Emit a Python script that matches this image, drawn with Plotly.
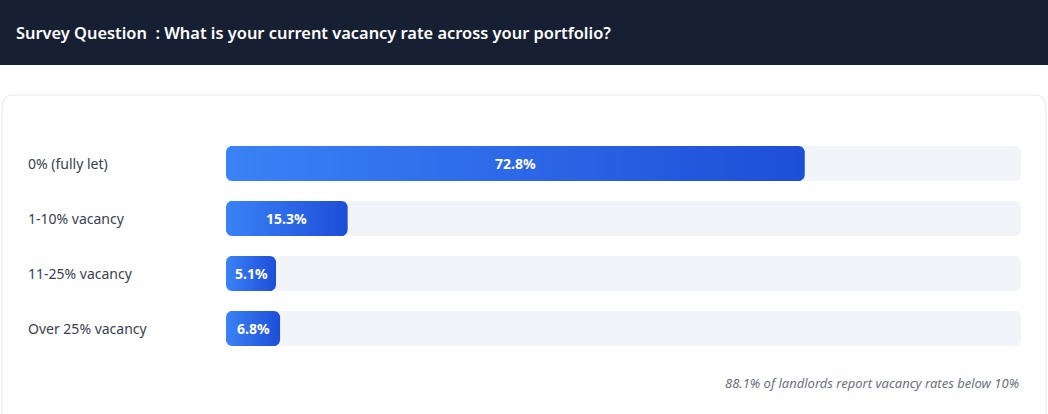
import numpy as np
import plotly.graph_objects as go

# ---- data ----
categories = ["0% (fully let)", "1-10% vacancy", "11-25% vacancy", "Over 25% vacancy"]
values = [72.8, 15.3, 5.1, 6.8]
value_labels = ["72.8%", "15.3%", "5.1%", "6.8%"]
title_text = "Survey Question  : What is your current vacancy rate across your portfolio?"
footer_text = "88.1% of landlords report vacancy rates below 10%"

# ---- layout geometry ----
W, H = 1048, 414
ML, MR, MT, MB = 226, 27, 136, 58
PW, PH = W - ML - MR, H - MT - MB
px_x = PW / 100.0          # px per x unit
px_y = PH / 4.0            # px per category
BAR_PX = 35
MIN_PCT = 50 / px_x        # minimum visible bar width (for label)

def paper_x(px):
    return (px - ML) / PW

def paper_y(py):
    return (H - MB - py) / PH

def rounded_rect(x0, x1, y0, y1, r_px=6, n=10):
    rx = min(r_px / px_x, (x1 - x0) / 2)
    ry = r_px / px_y
    xs, ys = [], []
    corners = [
        (x1 - rx, y0 + ry, -np.pi / 2, 0),
        (x1 - rx, y1 - ry, 0, np.pi / 2),
        (x0 + rx, y1 - ry, np.pi / 2, np.pi),
        (x0 + rx, y0 + ry, np.pi, 1.5 * np.pi),
    ]
    for cx, cy, a0, a1 in corners:
        t = np.linspace(a0, a1, n)
        xs.extend(cx + rx * np.cos(t))
        ys.extend(cy + ry * np.sin(t))
    xs.append(xs[0]); ys.append(ys[0])
    return xs, ys

fig = go.Figure()

# background tracks
fig.add_trace(go.Bar(
    y=list(range(len(categories))), x=[100] * len(categories), orientation="h",
    width=BAR_PX / px_y, marker=dict(color="#f1f5f9", cornerradius=6, line=dict(width=0)),
    hoverinfo="skip", showlegend=False,
))

# value bars with horizontal gradient
half = BAR_PX / px_y / 2
for i, (cat, v) in enumerate(zip(categories, values)):
    w = max(v, MIN_PCT)
    xs, ys = rounded_rect(0, w, i - half, i + half)
    fig.add_trace(go.Scatter(
        x=xs, y=ys, mode="lines", fill="toself",
        line=dict(width=0, color="rgba(0,0,0,0)"),
        fillgradient=dict(type="horizontal",
                          colorscale=[[0, "#3b82f6"], [1, "#1d4ed8"]]),
        hoverinfo="skip", showlegend=False, name=cat,
    ))
    fig.add_annotation(x=w / 2, y=i, xref="x", yref="y", text=f"<b>{value_labels[i]}</b>",
                       showarrow=False, font=dict(family="Noto Sans", size=14, color="white"))
    fig.add_annotation(x=paper_x(26), y=i, xref="paper", yref="y", text=cat,
                       xanchor="left", showarrow=False,
                       font=dict(family="Noto Sans", size=14, color="#374151"))

# header gradient via svg image
svg = ("data:image/svg+xml;utf8,"
       "<svg xmlns='http://www.w3.org/2000/svg' width='1048' height='65' preserveAspectRatio='none'>"
       "<defs><linearGradient id='g' x1='0' x2='1' y1='0' y2='0'>"
       "<stop offset='0' stop-color='%23111827'/><stop offset='1' stop-color='%231e293b'/>"
       "</linearGradient></defs><rect width='1048' height='65' fill='url(%23g)'/></svg>")

shapes = [
    dict(type="rect", xref="paper", yref="paper", x0=paper_x(0), x1=paper_x(W),
         y0=paper_y(65), y1=paper_y(0), fillcolor="#172033", line=dict(width=0), layer="below"),
]
# card outline with rounded top corners
cx0, cx1, cy0, cyb = paper_x(2), paper_x(1046), paper_y(95), paper_y(430)
rxp, ryp = 12 / PW, 12 / PH
shapes.append(dict(
    type="path", xref="paper", yref="paper", layer="below",
    path=(f"M {cx0} {cyb} L {cx0} {cy0 - ryp} Q {cx0} {cy0} {cx0 + rxp} {cy0} "
          f"L {cx1 - rxp} {cy0} Q {cx1} {cy0} {cx1} {cy0 - ryp} L {cx1} {cyb}"),
    line=dict(color="#e5e7eb", width=1), fillcolor="rgba(0,0,0,0)"))

fig.update_layout(
    width=W, height=H,
    margin=dict(l=ML, r=MR, t=MT, b=MB),
    paper_bgcolor="white", plot_bgcolor="rgba(0,0,0,0)",
    showlegend=False, shapes=shapes,
    images=[dict(source=svg, xref="paper", yref="paper", x=paper_x(0), y=paper_y(0),
                 sizex=W / PW, sizey=65 / PH, xanchor="left", yanchor="top",
                 sizing="stretch", layer="below")],
    xaxis=dict(range=[0, 100], visible=False, fixedrange=True),
    yaxis=dict(range=[3.5, -0.5], visible=False, fixedrange=True),
    annotations=list(fig.layout.annotations) + [
        dict(x=paper_x(14), y=paper_y(32), xref="paper", yref="paper", text=title_text,
             xanchor="left", yanchor="middle", showarrow=False,
             font=dict(family="Noto Sans", size=16.4, color="white", weight=600)),
        dict(x=paper_x(1021), y=paper_y(383), xref="paper", yref="paper",
             text=f"<i>{footer_text}</i>", xanchor="right", yanchor="middle", showarrow=False,
             font=dict(family="Noto Sans", size=13, color="#6b7280")),
    ],
)

fig.write_html("out.html", config={"displayModeBar": False},
               post_script="document.body.style.margin='0';document.body.style.overflow='hidden';")
